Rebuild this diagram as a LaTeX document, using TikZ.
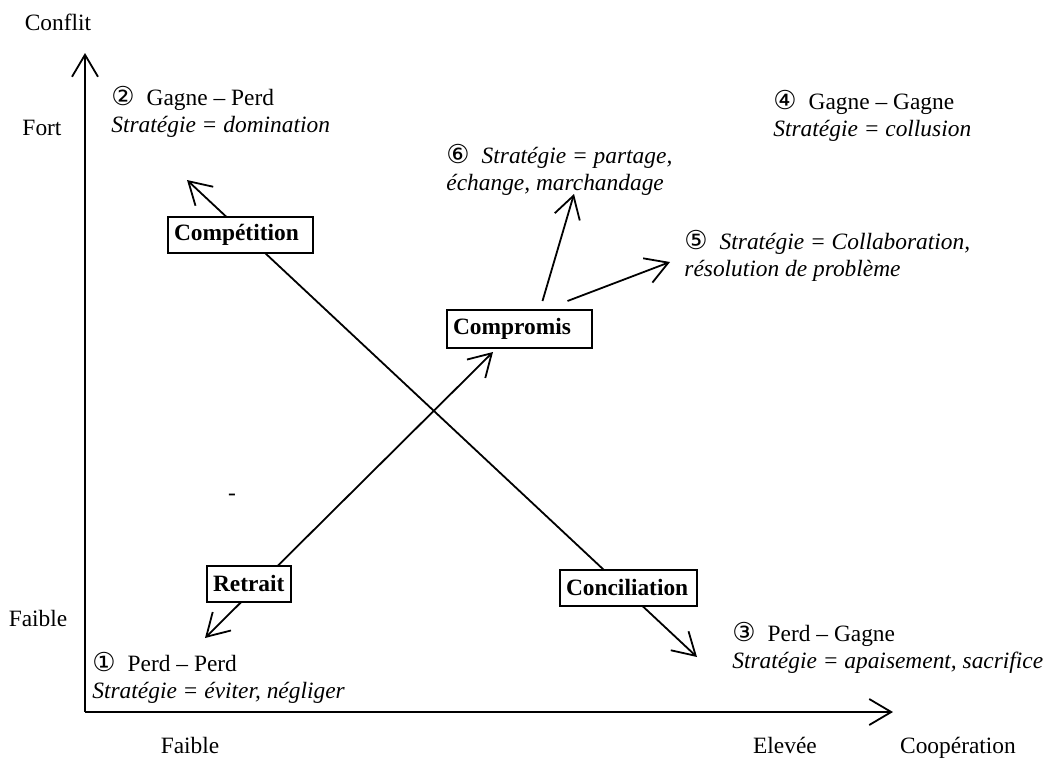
\documentclass[tikz,border=0pt]{standalone}
\usepackage{fontspec}
\setmainfont{Liberation Serif}
\newfontfamily\circfont{DejaVu Sans}
\usetikzlibrary{arrows.meta,calc}

\newcommand{\circnum}[1]{{\circfont\fontsize{13}{13}\selectfont #1}\hspace{6pt}}

\begin{document}
\begin{tikzpicture}[x={(0.5pt,0)},y={(0,-0.5pt)},
    >={Straight Barb[length=11pt,width=13pt]},
    every node/.style={font=\fontsize{11.7}{13.5}\selectfont},
    box/.style={draw,fill=white,line width=1pt,inner xsep=3pt,align=left,
      minimum height=18pt,font=\fontsize{11.7}{13.5}\selectfont\bfseries},
    txt/.style={anchor=north west,inner sep=0pt,align=left},
    line/.style={line width=0.9pt}
  ]
  \useasboundingbox (0,0) rectangle (1045,757);

  % axes
  \coordinate (o) at (85,712);
  \coordinate (ytop) at (85,53);
  \coordinate (xend) at (893,712);
  \draw[line,->] (o) -- (ytop);
  \draw[line,->] (o) -- (xend);

  \node (conflit) at (58,22) {Conflit};
  \node (fort) at (42,128) {Fort};
  \node (faibley) at (38,618) {Faible};
  \node (faiblex) at (190,745) {Faible};
  \node (elevee) at (785,745) {Elevée};
  \node (coop) at (958,748) {Coopération};
  \node (tiret) at (232,497) {-};

  % diagonals
  \coordinate (tl) at (187,180);
  \coordinate (br) at (697,657);
  \coordinate (bl) at (205,638);
  \coordinate (mid) at (493,352);
  \draw[line,<->] (tl) -- (br);
  \draw[line,<->] (bl) -- (mid);

  \node[box,text width=66.5pt] (compet) at (240.5,234.5) {Compétition};
  \node[box,text width=66.5pt,minimum height=19pt] (compro) at (519.5,329) {Compromis};
  \node[box,text width=36pt] (retrait) at (249,583.5) {Retrait};
  \node[box,text width=62.5pt] (concil) at (628.5,587.5) {Conciliation};

  % outcomes
  \node[txt] (gp) at (111,86) {\circnum{②}Gagne – Perd\\\textit{Stratégie = domination}};
  \node[txt] (gg) at (773,90) {\circnum{④}Gagne – Gagne\\\textit{Stratégie = collusion}};
  \node[txt] (part) at (446,144) {\circnum{⑥}\textit{Stratégie = partage,}\\\textit{échange, marchandage}};
  \node[txt] (collab) at (684,230) {\circnum{⑤}\textit{Stratégie = Collaboration,}\\\textit{résolution de problème}};
  \node[txt] (pg) at (732,622) {\circnum{③}Perd – Gagne\\\textit{Stratégie = apaisement, sacrifice}};
  \node[txt] (pp) at (92,652) {\circnum{①}Perd – Perd\\\textit{Stratégie = éviter, négliger}};

  \coordinate (to6) at (574,194);
  \coordinate (to5) at (670,262);
  \draw[line,->] ([shift={(23,-8)}]compro.north) -- (to6);
  \draw[line,->] ([shift={(48,-8)}]compro.north) -- (to5);
\end{tikzpicture}
\end{document}
